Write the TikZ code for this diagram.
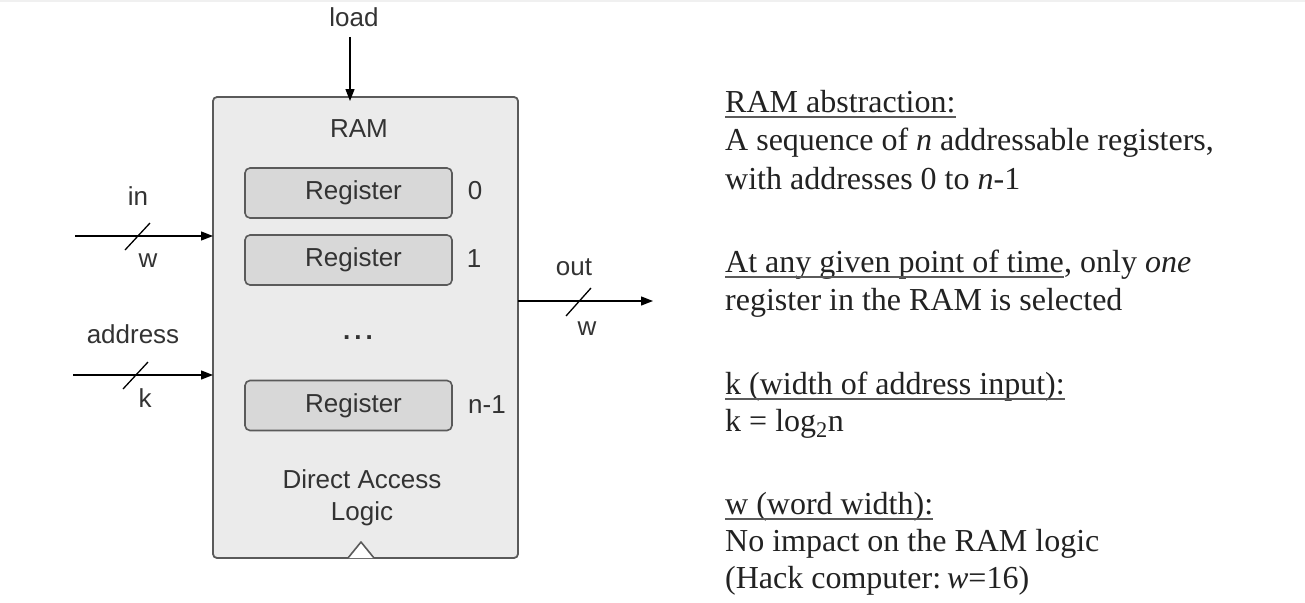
\documentclass[tikz,border=0pt]{standalone}
\usepackage{fontspec}
\setmainfont{Liberation Serif}
\newfontfamily\arialf{Liberation Sans}
\usetikzlibrary{arrows.meta}
\definecolor{txtgray}{HTML}{333333}
\definecolor{sertxt}{HTML}{222222}
\definecolor{boxfill}{HTML}{EBEBEB}
\definecolor{regfill}{HTML}{D8D8D8}
\definecolor{edgegray}{HTML}{5A5A5A}
\begin{document}
\begin{tikzpicture}[x=1pt,y=-1pt,
  lbl/.style={font=\arialf\fontsize{26}{32}\selectfont, text=txtgray, inner sep=0pt, anchor=base},
  sertext/.style={font=\fontsize{32}{38}\selectfont, text=sertxt, inner sep=0pt, anchor=base west},
  uline/.style={draw=edgegray, line width=1.4pt},
  ramstyle/.style={draw=edgegray, line width=1.8pt, fill=boxfill, rounded corners=4pt},
  regstyle/.style={draw=edgegray, line width=1.6pt, fill=regfill, rounded corners=5pt,
    minimum width=207pt, minimum height=50pt, inner sep=0pt,
    font=\arialf\fontsize{26}{32}\selectfont, text=txtgray},
  sig/.style={draw=black, line width=1.3pt, -{Triangle[length=12pt,width=9pt]}},
  busmark/.style={draw=black, line width=1.3pt}
]
\useasboundingbox (0,0) rectangle (1305,602);
\fill[white] (0,0) rectangle (1305,602);
\draw[draw=black!6, line width=3pt] (0,1) -- (1305,1);

% RAM block
\draw[ramstyle] (213,97) rectangle (518,558);
\coordinate (ramtop) at (350,97);
\coordinate (ramin) at (213,236);
\coordinate (ramaddr) at (213,375);
\coordinate (ramout) at (518,301);

% clock triangle
\draw[draw=edgegray, line width=1.6pt, fill=white, line join=round] (348,558) -- (361,542) -- (374,558);

\node[lbl] (ramlbl) at (359,137) {RAM};

\node[regstyle] (r0) at (348.5,193) {\hspace*{10pt}Register};
\node[regstyle] (r1) at (348.5,260) {\hspace*{10pt}Register};
\node[regstyle] (rn) at (348.5,405.5) {\hspace*{10pt}Register};

\node[lbl] (i0) at (475,199) {0};
\node[lbl] (i1) at (474,267) {1};
\node[lbl] (in1) at (487,413) {n-1};

\node[lbl, font=\arialf\bfseries\fontsize{26}{32}\selectfont] (dots) at (358,339) {.\kern4pt.\kern4pt.};

\node[lbl] (dal1) at (362,488) {Direct Access};
\node[lbl] (dal2) at (362,520) {Logic};

% load
\node[lbl] (load) at (354,27) {load};
\coordinate (loadstart) at (350,37);
\draw[sig] (loadstart) -- ([yshift=-4pt]ramtop);

% in
\node[lbl] (inl) at (138,205) {in};
\node[lbl] (inw) at (148,267) {w};
\coordinate (instart) at (75,236);
\draw[sig] (instart) -- (ramin);
\coordinate (ins1) at (125,250);
\coordinate (ins2) at (150,223);
\draw[busmark] (ins1) -- (ins2);

% address
\node[lbl] (addrl) at (133,343) {address};
\node[lbl] (addrk) at (145,407) {k};
\coordinate (addrstart) at (73,375);
\draw[sig] (addrstart) -- (ramaddr);
\coordinate (ads1) at (123,389);
\coordinate (ads2) at (148,362);
\draw[busmark] (ads1) -- (ads2);

% out
\node[lbl] (outl) at (574,275) {out};
\node[lbl] (outw) at (587,335) {w};
\coordinate (outend) at (653,301);
\draw[sig] (ramout) -- (outend);
\coordinate (os1) at (566,316);
\coordinate (os2) at (591,288);
\draw[busmark] (os1) -- (os2);

% right-hand text
\node[sertext] (t1) at (725,112) {RAM abstraction:};
\draw[uline] ([yshift=-5pt]t1.base west) -- ([yshift=-5pt]t1.base east);
\node[sertext] (t2) at (725,150) {A sequence of \textit{n} addressable registers,};
\node[sertext] (t3) at (725,189) {with addresses 0 to \textit{n}-1};

\node[sertext] (t4) at (725,272) {At any given point of time};
\draw[uline] ([yshift=-5pt]t4.base west) -- ([yshift=-5pt]t4.base east);
\node[sertext] (t4b) at (t4.base east) {, only \textit{one}};
\node[sertext] (t5) at (725,310) {register in the RAM is selected};

\node[sertext] (t6) at (725,394) {k (width of address input):};
\draw[uline] ([yshift=-5pt]t6.base west) -- ([yshift=-5pt]t6.base east);
\node[sertext] (t7) at (725,431) {k = log\textsubscript{2}n};

\node[sertext] (t8) at (725,514) {w (word width):};
\draw[uline] ([yshift=-5pt]t8.base west) -- ([yshift=-5pt]t8.base east);
\node[sertext] (t9) at (725,551) {No impact on the RAM logic};
\node[sertext] (t10) at (725,588) {(Hack computer:\kern6pt\textit{w}=16)};
\end{tikzpicture}
\end{document}
